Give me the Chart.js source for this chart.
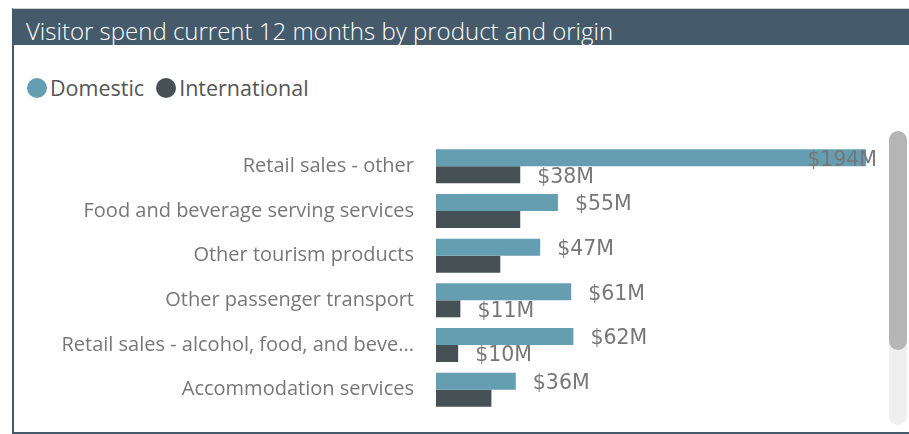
<!DOCTYPE html>
<html>
<head>
<meta charset="utf-8">
<script src="https://cdn.jsdelivr.net/npm/chart.js@4/dist/chart.umd.min.js"></script>
<style>
  body { margin:0; background:#fff; width:909px; height:434px; overflow:hidden; position:relative; font-family:"Open Sans", sans-serif; }
  #frame { position:absolute; left:12px; top:8px; width:905px; height:423px; border-left:2px solid #455a6a; border-bottom:2px solid #455a6a; border-top:1px solid #c9d2d6; }
  #title { position:absolute; left:12px; top:9px; width:897px; height:36px; background:#455a6a; color:#fff; font-size:24px; font-weight:300; line-height:44px; padding-left:14px; box-sizing:border-box; white-space:nowrap; overflow:visible; }
  #legend { position:absolute; left:27px; top:73px; font-size:21.5px; color:#555; display:flex; align-items:center; }
  #legend span.item { display:flex; align-items:center; margin-right:12px; }
  #legend span.dot { width:20px; height:20px; border-radius:50%; display:inline-block; margin-right:3px; }
  #chartBox { position:absolute; left:14px; top:100px; }
  #track { position:absolute; left:889px; top:131px; width:18px; height:294px; background:#efefef; border-radius:9px; }
  #thumb { position:absolute; left:889px; top:131px; width:18px; height:219px; background:#b5b5b5; border-radius:9px; }
</style>
</head>
<body>
<div id="frame"></div>
<div id="title">Visitor spend current 12 months by product and origin</div>
<div id="legend"></div>
<div id="chartBox"><canvas id="chart" width="870" height="330"></canvas></div>
<div id="track"></div>
<div id="thumb"></div>
<script>
const categories = [
  "Retail sales - other",
  "Food and beverage serving services",
  "Other tourism products",
  "Other passenger transport",
  "Retail sales - alcohol, food, and beve...",
  "Accommodation services"
];
const domestic = [194, 55, 47, 61, 62, 36];
const international = [38, 38, 29, 11, 10, 25];
const seriesNames = ["Domestic", "International"];
const seriesColors = ["#669eb1", "#465155"];

// legend in html
const legend = document.getElementById("legend");
seriesNames.forEach((name, i) => {
  const item = document.createElement("span");
  item.className = "item";
  item.innerHTML = '<span class="dot" style="background:' + seriesColors[i] + '"></span>' + name;
  legend.appendChild(item);
});

// value labels, hidden when they collide with an earlier label (like Power BI)
const valueLabels = {
  id: "valueLabels",
  afterDatasetsDraw(chart) {
    const ctx = chart.ctx;
    const area = chart.chartArea;
    ctx.save();
    ctx.font = '20.5px "DejaVu Sans"';
    ctx.fillStyle = "#777";
    ctx.textBaseline = "middle";
    ctx.textAlign = "left";
    const boxes = [];
    chart.data.datasets.forEach((ds, di) => {
      const meta = chart.getDatasetMeta(di);
      meta.data.forEach((bar, i) => {
        const text = "$" + ds.data[i] + "M";
        const w = ctx.measureText(text).width;
        let x = bar.x + 17;
        if (x + w > area.right + 11) x = area.right + 11 - w;
        const box = {l: x, r: x + w, t: bar.y - 10, b: bar.y + 10};
        const hit = boxes.some(o => box.l < o.r && box.r > o.l && box.t < o.b && box.b > o.t);
        if (hit) return;
        boxes.push(box);
        ctx.fillText(text, x, bar.y + 2.5);
      });
    });
    ctx.restore();
  }
};

new Chart(document.getElementById("chart").getContext("2d"), {
  type: "bar",
  data: {
    labels: categories,
    datasets: [
      { label: seriesNames[0], data: domestic, backgroundColor: seriesColors[0] },
      { label: seriesNames[1], data: international, backgroundColor: seriesColors[1] }
    ]
  },
  options: {
    indexAxis: "y",
    responsive: false,
    animation: false,
    categoryPercentage: 0.76,
    barPercentage: 1,
    layout: { padding: { top: 44, bottom: 18, right: 18, left: 0 } },
    plugins: { legend: { display: false }, tooltip: { enabled: false } },
    scales: {
      x: { display: false, min: 0, max: Math.max(...domestic, ...international) },
      y: {
        grid: { display: false },
        border: { display: false },
        ticks: { padding: 14, color: "#777", font: { family: "Open Sans", size: 20 } },
        afterFit(scale) { scale.width = 422; scale.paddingTop = 0; scale.paddingBottom = 0; }
      }
    }
  },
  plugins: [valueLabels]
});
</script>
</body>
</html>
